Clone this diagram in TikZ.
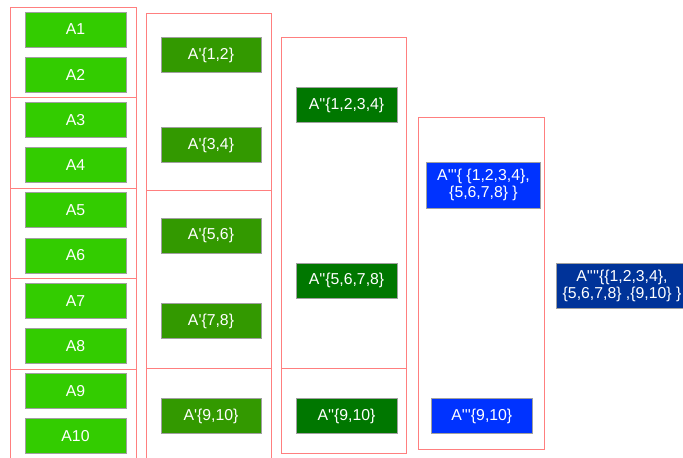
\documentclass[tikz,border=0pt]{standalone}
\usepackage{fontspec}
\setmainfont{Liberation Sans}
\newcommand{\pq}{\textquotesingle}
\definecolor{grpred}{HTML}{FF7F7F}
\definecolor{cA}{HTML}{33CC00}
\definecolor{cB}{HTML}{339900}
\definecolor{cC}{HTML}{007700}
\definecolor{cD}{HTML}{0033FF}
\definecolor{cE}{HTML}{003399}
\definecolor{edgegray}{HTML}{A0A0A0}
\tikzset{
  box/.style={draw=edgegray, line width=0.8pt, text=white, inner sep=0pt,
    minimum width=101pt, minimum height=35pt, font=\fontsize{15.8}{16.8}\selectfont, align=center},
  lvlA/.style={box, fill=cA},
  lvlB/.style={box, fill=cB, minimum width=100pt},
  lvlC/.style={box, fill=cC},
  lvlD/.style={box, fill=cD},
  lvlE/.style={box, fill=cE},
  grp/.style={draw=grpred, line width=1pt}
}
\begin{document}
\begin{tikzpicture}[x=1pt,y=-1pt]
\useasboundingbox (0,0) rectangle (683,458);
\clip (0,0) rectangle (683,458);
% column 1 groups
\draw[grp] (10,7) rectangle (136,97.5);
\draw[grp] (10,97.5) rectangle (136,188);
\draw[grp] (10,188) rectangle (136,278.5);
\draw[grp] (10,278.5) rectangle (136,369);
\draw[grp] (10,369) rectangle (136,470);
% column 2 groups
\draw[grp] (146,13) rectangle (271,190.3);
\draw[grp] (146,190.3) rectangle (271,368.7);
\draw[grp] (146,368.7) rectangle (271,470);
% column 3 groups
\draw[grp] (281.3,37.3) rectangle (406.7,368.7);
\draw[grp] (281.3,368.7) rectangle (406.7,453.3);
% column 4 group
\draw[grp] (418.7,117.3) rectangle (544.7,449.3);
% column 1 nodes
\node[lvlA] (a1) at (75.5,29.5) {A1};
\node[lvlA] (a2) at (75.5,74.7) {A2};
\node[lvlA] (a3) at (75.5,119.9) {A3};
\node[lvlA] (a4) at (75.5,165.1) {A4};
\node[lvlA] (a5) at (75.5,210.3) {A5};
\node[lvlA] (a6) at (75.5,255.5) {A6};
\node[lvlA] (a7) at (75.5,300.7) {A7};
\node[lvlA] (a8) at (75.5,345.9) {A8};
\node[lvlA] (a9) at (75.5,391.1) {A9};
\node[lvlA] (a10) at (75.5,436.3) {A10};
% column 2 nodes
\node[lvlB] (b12) at (211,55.2) {A\pq\{1,2\}};
\node[lvlB] (b34) at (211,145.3) {A\pq\{3,4\}};
\node[lvlB] (b56) at (211,235.7) {A\pq\{5,6\}};
\node[lvlB] (b78) at (211,321) {A\pq\{7,8\}};
\node[lvlB] (b910) at (211,416.3) {A\pq\{9,10\}};
% column 3 nodes
\node[lvlC] (c1234) at (346.5,105.2) {A\pq\pq\{1,2,3,4\}};
\node[lvlC] (c5678) at (346.5,280.8) {A\pq\pq\{5,6,7,8\}};
\node[lvlC] (c910) at (346.5,416.3) {A\pq\pq\{9,10\}};
% column 4 nodes
\node[lvlD, minimum width=114.4pt, minimum height=46pt] (d18) at (483.5,185.3) {A\pq\pq\pq\{ \{1,2,3,4\},\\ \{5,6,7,8\} \}};
\node[lvlD] (d910) at (481.8,416.3) {A\pq\pq\pq\{9,10\}};
% final node
\node[lvlE, minimum width=131pt, minimum height=45pt] (e) at (622,285.8) {A\pq\pq\pq\pq\{\{1,2,3,4\},\\ \{5,6,7,8\} ,\{9,10\} \}};
\end{tikzpicture}
\end{document}
